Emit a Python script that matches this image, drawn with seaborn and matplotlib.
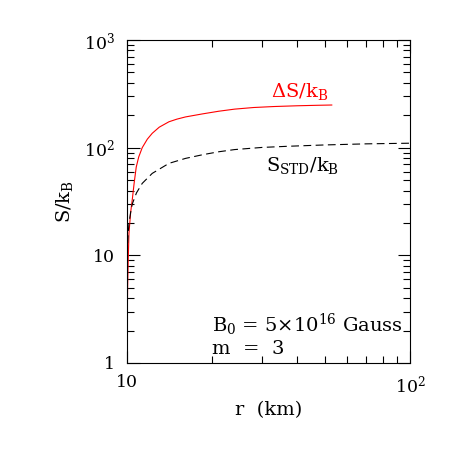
import pandas as pd
import matplotlib
matplotlib.use("Agg")
import matplotlib.pyplot as plt
import matplotlib.ticker as mticker
import seaborn as sns

# radius (km) and entropy per baryon for the magnetised case
r_delta = [10.0, 10.02, 10.05, 10.1, 10.16, 10.3, 10.44, 10.6, 10.78, 11.0,
           11.32, 11.8, 12.28, 13.0, 14.07, 15.0, 16.1, 18.5, 21.1, 24.0,
           28.0, 33.0, 40.0, 47.0, 53.0]
s_delta = [1, 2.5, 5, 9, 16, 25, 33, 47, 66, 82,
           100, 120, 136, 155, 174, 184, 193, 206, 218, 228,
           236, 241, 245, 247.5, 249]

# standard (non-magnetised) entropy
r_std = [10.0, 10.08, 10.16, 10.3, 10.44, 10.8, 11.32, 12.28, 14.07, 16.1,
         18.5, 21.1, 24.0, 30.0, 37.0, 50.0, 70.0, 100.0]
s_std = [10, 15, 19.8, 25, 30, 38, 46.6, 57.7, 71.5, 79.5,
         86, 91.6, 96, 100.5, 103, 106, 108.5, 110]

xticks = [10, 100]
xticklabels = ["10", r"10$^2$"]
yticks = [1, 10, 100, 1000]
yticklabels = ["1", "10", r"10$^2$", r"10$^3$"]

sns.set_style("ticks")
plt.rcParams["font.family"] = ["DejaVu Serif"]
plt.rcParams["mathtext.fontset"] = "dejavuserif"
plt.rcParams["axes.linewidth"] = 0.8
plt.rcParams["text.color"] = "black"
plt.rcParams["axes.labelcolor"] = "black"
plt.rcParams["xtick.color"] = "black"
plt.rcParams["ytick.color"] = "black"

df_delta = pd.DataFrame({"r": r_delta, "S": s_delta})
df_std = pd.DataFrame({"r": r_std, "S": s_std})

fig = plt.figure(figsize=(4.63, 4.63), dpi=100)
ax = fig.add_axes([0.2743, 0.216, 0.6112, 0.6976])

sns.lineplot(data=df_delta, x="r", y="S", color="red", lw=0.8,
             estimator=None, sort=False, ax=ax)
sns.lineplot(data=df_std, x="r", y="S", color="black", lw=0.8,
             linestyle=(0, (7, 4)), estimator=None, sort=False, ax=ax)

ax.set_xscale("log")
ax.set_yscale("log")
ax.set_xlim(10, 100)
ax.set_ylim(1, 1000)
ax.set_xticks(xticks)
ax.set_xticklabels(xticklabels)
ax.set_yticks(yticks)
ax.set_yticklabels(yticklabels)
ax.xaxis.set_minor_formatter(mticker.NullFormatter())
ax.yaxis.set_minor_formatter(mticker.NullFormatter())

ax.tick_params(which="both", direction="in", top=True, right=True,
               labelsize=12.5, color="black", labelcolor="black")
ax.tick_params(which="major", length=9, width=0.8)
ax.tick_params(which="minor", length=5, width=0.8)
ax.tick_params(axis="x", pad=8)
ax.tick_params(axis="y", pad=8.5)
for s in ax.spines.values():
    s.set_color("black")

ax.set_xlabel("r  (km)", fontsize=14)
ax.set_ylabel(r"S/k$_{\rm B}$", fontsize=14)
ax.xaxis.set_label_coords(0.5, -0.118)
ax.yaxis.set_label_coords(-0.184, 0.5)

ax.text(0.611, 0.842, r"$\Delta$S/k$_{\rm B}$", color="red", fontsize=14,
        ha="center", va="center", transform=ax.transAxes)
ax.text(0.622, 0.61, r"S$_{\rm STD}$/k$_{\rm B}$", color="black", fontsize=14,
        ha="center", va="center", transform=ax.transAxes)
ax.text(0.30, 0.118, r"B$_0$ = 5$\times$10$^{16}$ Gauss", fontsize=14,
        ha="left", va="center", transform=ax.transAxes)
ax.text(0.30, 0.044, "m  =  3", fontsize=14,
        ha="left", va="center", transform=ax.transAxes)

plt.savefig("out.png", dpi=100)
